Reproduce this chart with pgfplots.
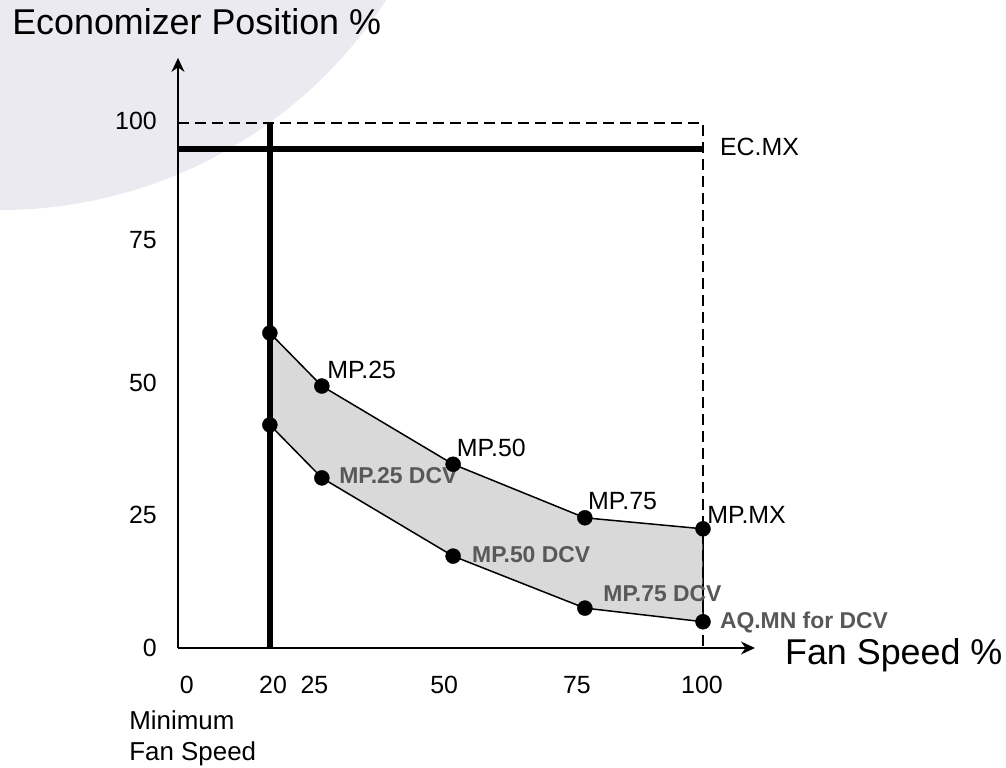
\documentclass[border=0pt]{standalone}
\usepackage{fontspec}
\setmainfont{Liberation Sans}
\usepackage{pgfplots}
\pgfplotsset{compat=1.18}
\usetikzlibrary{arrows.meta}
\definecolor{wm}{RGB}{234,234,240}
\definecolor{lbl}{RGB}{88,88,88}
\definecolor{fillg}{RGB}{217,217,217}
\begin{document}
\begin{tikzpicture}
\useasboundingbox (-178bp,-120bp) rectangle (828bp,648bp);
\fill[wm] (-178bp,898bp) circle[radius=460bp];
\begin{axis}[
  x=5.25bp, y=5.25bp,
  xmin=0, xmax=109.9, ymin=0, ymax=112.4,
  axis lines=left,
  axis line style={line width=1.5bp, -{Stealth[length=14bp,width=13bp]}},
  clip=false,
  major tick length=0pt,
  xtick={1.7,18.1,26,50.7,76,99.8},
  xticklabels={0,20,25,50,75,100},
  ytick={0,25.3,50.5,77.7,100.4},
  yticklabels={0,25,50,75,100},
  /pgf/number format/assume math mode=true,
  tick label style={font=\fontsize{25}{30}\selectfont, inner sep=0pt},
  xticklabel style={anchor=north, yshift=-28bp},
  yticklabel style={anchor=east, xshift=-21bp},
]
% shaded band
\addplot[draw=black, line width=1.5bp, fill=fillg] coordinates {
  (17.5,60.0) (27.4,49.9) (52.4,35.0) (77.5,24.8) (100,22.7)
  (100,5.0) (77.5,7.6) (52.4,17.5) (27.4,32.4) (17.5,42.5) (17.5,60.0)};
% dashed 100% limits
\addplot[line width=2bp, dash pattern=on 11bp off 6bp] coordinates {(0,100) (100,100) (100,0)};
% minimum fan speed
\addplot[line width=5.5bp] coordinates {(17.5,0) (17.5,100)};
% EC.MX
\addplot[line width=6bp] coordinates {(0,95) (100,95)};
% points
\addplot[only marks, mark=*, mark size=7.5bp, black] coordinates {
  (17.5,60.0) (27.4,49.9) (52.4,35.0) (77.5,24.8) (100,22.7)
  (17.5,42.5) (27.4,32.4) (52.4,17.5) (77.5,7.6) (100,5.0)};
% labels
\begin{scope}[every node/.style={inner sep=0pt, anchor=base west}]
\node[font=\fontsize{25}{30}\selectfont] at (axis cs:28.4,51.4) {MP.25};
\node[font=\fontsize{25}{30}\selectfont] at (axis cs:53.1,36.4) {MP.50};
\node[font=\fontsize{25}{30}\selectfont] at (axis cs:78.1,26.3) {MP.75};
\node[font=\fontsize{25}{30}\selectfont] at (axis cs:100.8,23.8) {MP.MX};
\node[font=\fontsize{25}{30}\selectfont] at (axis cs:103.2,93.9) {EC.MX};
\node[font=\bfseries\fontsize{23}{27}\selectfont, text=lbl] at (axis cs:30.7,31.4) {MP.25 DCV};
\node[font=\bfseries\fontsize{23}{27}\selectfont, text=lbl] at (axis cs:56.0,16.2) {MP.50 DCV};
\node[font=\bfseries\fontsize{23}{27}\selectfont, text=lbl] at (axis cs:81.0,8.8) {MP.75 DCV};
\node[font=\bfseries\fontsize{23}{27}\selectfont, text=lbl] at (axis cs:103.2,3.8) {AQ.MN for DCV};
\node[font=\fontsize{36}{42}\selectfont] at (axis cs:115.6,-3.2) {Fan Speed \%};
\node[font=\fontsize{36}{42}\selectfont] at (axis cs:-31.6,116.8) {Economizer Position \%};
\node[font=\fontsize{26}{30}\selectfont] at (axis cs:-9.3,-15.5) {Minimum};
\node[font=\fontsize{26}{30}\selectfont] at (axis cs:-9.3,-21.5) {Fan Speed};
\end{scope}
\end{axis}
\end{tikzpicture}
\end{document}
